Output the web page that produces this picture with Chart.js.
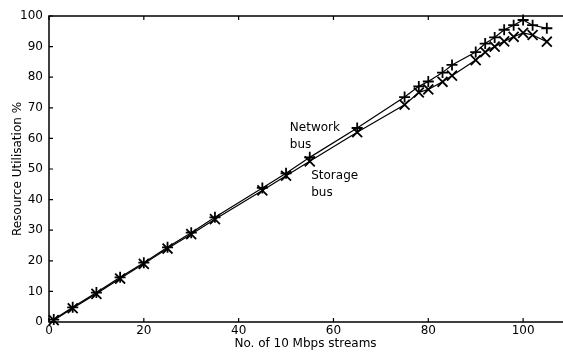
<!DOCTYPE html>
<html>
<head>
<meta charset="utf-8">
<script src="https://cdn.jsdelivr.net/npm/chart.js@4/dist/chart.umd.min.js"></script>
<style>
  html, body { margin: 0; padding: 0; background: #fff; overflow: hidden; }
  #wrap { width: 563px; height: 353px; }
</style>
</head>
<body>
<div id="wrap"><canvas id="busChart" width="563" height="353"></canvas></div>
<script>
const streams = [1, 5, 10, 15, 20, 25, 30, 35, 45, 50, 55, 65, 75, 78, 80, 83, 85, 90, 92, 94, 96, 98, 100, 102, 105];
const networkBus = [0.8, 4.8, 9.6, 14.6, 19.4, 24.4, 29.2, 34.2, 43.8, 48.6, 53.8, 63.4, 73.5, 77, 78.6, 81.5, 84, 88.2, 91, 93, 95.5, 97, 98.7, 97, 96];
const storageBus = [0.6, 4.5, 9.2, 14.2, 19, 24, 28.7, 33.6, 43, 47.8, 52.5, 62, 71, 75, 76, 78.5, 80.5, 85.6, 88.2, 90, 91.7, 93.2, 94.5, 93.8, 91.6];
const xTicks = [0, 20, 40, 60, 80, 100];
const yTicks = [0, 10, 20, 30, 40, 50, 60, 70, 80, 90, 100];

// text labels placed next to the curves, in data units
const curveLabels = [
  { lines: ["Network", "bus"], x: 50.8, y: 63.4 },
  { lines: ["Storage", "bus"], x: 55.3, y: 47.7 }
];

const font = "DejaVu Sans";

function toPoints(xs, ys) {
  return xs.map((x, i) => ({ x: x, y: ys[i] }));
}

// frame (right side is cut off in the original), inward ticks, curve labels
const framePlugin = {
  id: "frame",
  afterDraw(chart) {
    const ctx = chart.ctx;
    const a = chart.chartArea;
    const xs = chart.scales.x;
    const ys = chart.scales.y;
    ctx.save();
    ctx.strokeStyle = "#000";
    ctx.lineWidth = 1.5;
    ctx.beginPath();
    ctx.moveTo(chart.width, a.top);
    ctx.lineTo(a.left, a.top);
    ctx.lineTo(a.left, a.bottom);
    ctx.lineTo(chart.width, a.bottom);
    ctx.stroke();
    ctx.lineWidth = 1.2;
    ctx.beginPath();
    xTicks.forEach(v => {
      const px = xs.getPixelForValue(v);
      ctx.moveTo(px, a.bottom); ctx.lineTo(px, a.bottom - 4);
      ctx.moveTo(px, a.top); ctx.lineTo(px, a.top + 4);
    });
    yTicks.forEach(v => {
      const py = ys.getPixelForValue(v);
      ctx.moveTo(a.left, py); ctx.lineTo(a.left + 4, py);
    });
    ctx.stroke();

    ctx.fillStyle = "#000";
    ctx.font = "12px '" + font + "'";
    ctx.textAlign = "left";
    ctx.textBaseline = "middle";
    curveLabels.forEach(l => {
      const px = xs.getPixelForValue(l.x);
      const py = ys.getPixelForValue(l.y);
      l.lines.forEach((t, i) => ctx.fillText(t, px, py + i * 17));
    });
    ctx.restore();
  }
};

new Chart(document.getElementById("busChart"), {
  type: "line",
  data: {
    datasets: [
      {
        label: "Network bus",
        data: toPoints(streams, networkBus),
        borderColor: "#000",
        borderWidth: 1.2,
        pointStyle: "cross",
        pointRadius: 5.5,
        pointBorderColor: "#000",
        pointBorderWidth: 1.8,
        fill: false,
        tension: 0,
        clip: false
      },
      {
        label: "Storage bus",
        data: toPoints(streams, storageBus),
        borderColor: "#000",
        borderWidth: 1.2,
        pointStyle: "crossRot",
        pointRadius: 7,
        pointBorderColor: "#000",
        pointBorderWidth: 1.8,
        fill: false,
        tension: 0,
        clip: false
      }
    ]
  },
  options: {
    responsive: false,
    animation: false,
    layout: { autoPadding: false, padding: { top: 16, right: 1, left: 0, bottom: 0 } },
    plugins: {
      legend: { display: false },
      tooltip: { enabled: false }
    },
    scales: {
      x: {
        type: "linear",
        min: 0,
        max: 108.2,
        grid: { display: false, drawTicks: false },
        border: { display: false },
        afterFit: s => { s.height = 31; s.paddingLeft = 0; s.paddingRight = 0; },
        afterBuildTicks: s => { s.ticks = xTicks.map(v => ({ value: v })); },
        ticks: { color: "#000", padding: 2, maxRotation: 0, font: { family: font, size: 12 } },
        title: {
          display: true,
          text: "No. of 10 Mbps streams",
          color: "#000",
          font: { family: font, size: 12 },
          padding: { top: 0, bottom: 2 }
        }
      },
      y: {
        min: 0,
        max: 100,
        grid: { display: false, drawTicks: false },
        border: { display: false },
        afterFit: s => { s.width = 49; s.paddingTop = 0; s.paddingBottom = 0; },
        afterBuildTicks: s => { s.ticks = yTicks.map(v => ({ value: v })); },
        ticks: { color: "#000", padding: 6, font: { family: font, size: 12 } },
        title: {
          display: true,
          text: "Resource Utilisation %",
          color: "#000",
          font: { family: font, size: 12 },
          padding: { top: 11, bottom: 0 }
        }
      }
    }
  },
  plugins: [framePlugin]
});
</script>
</body>
</html>
